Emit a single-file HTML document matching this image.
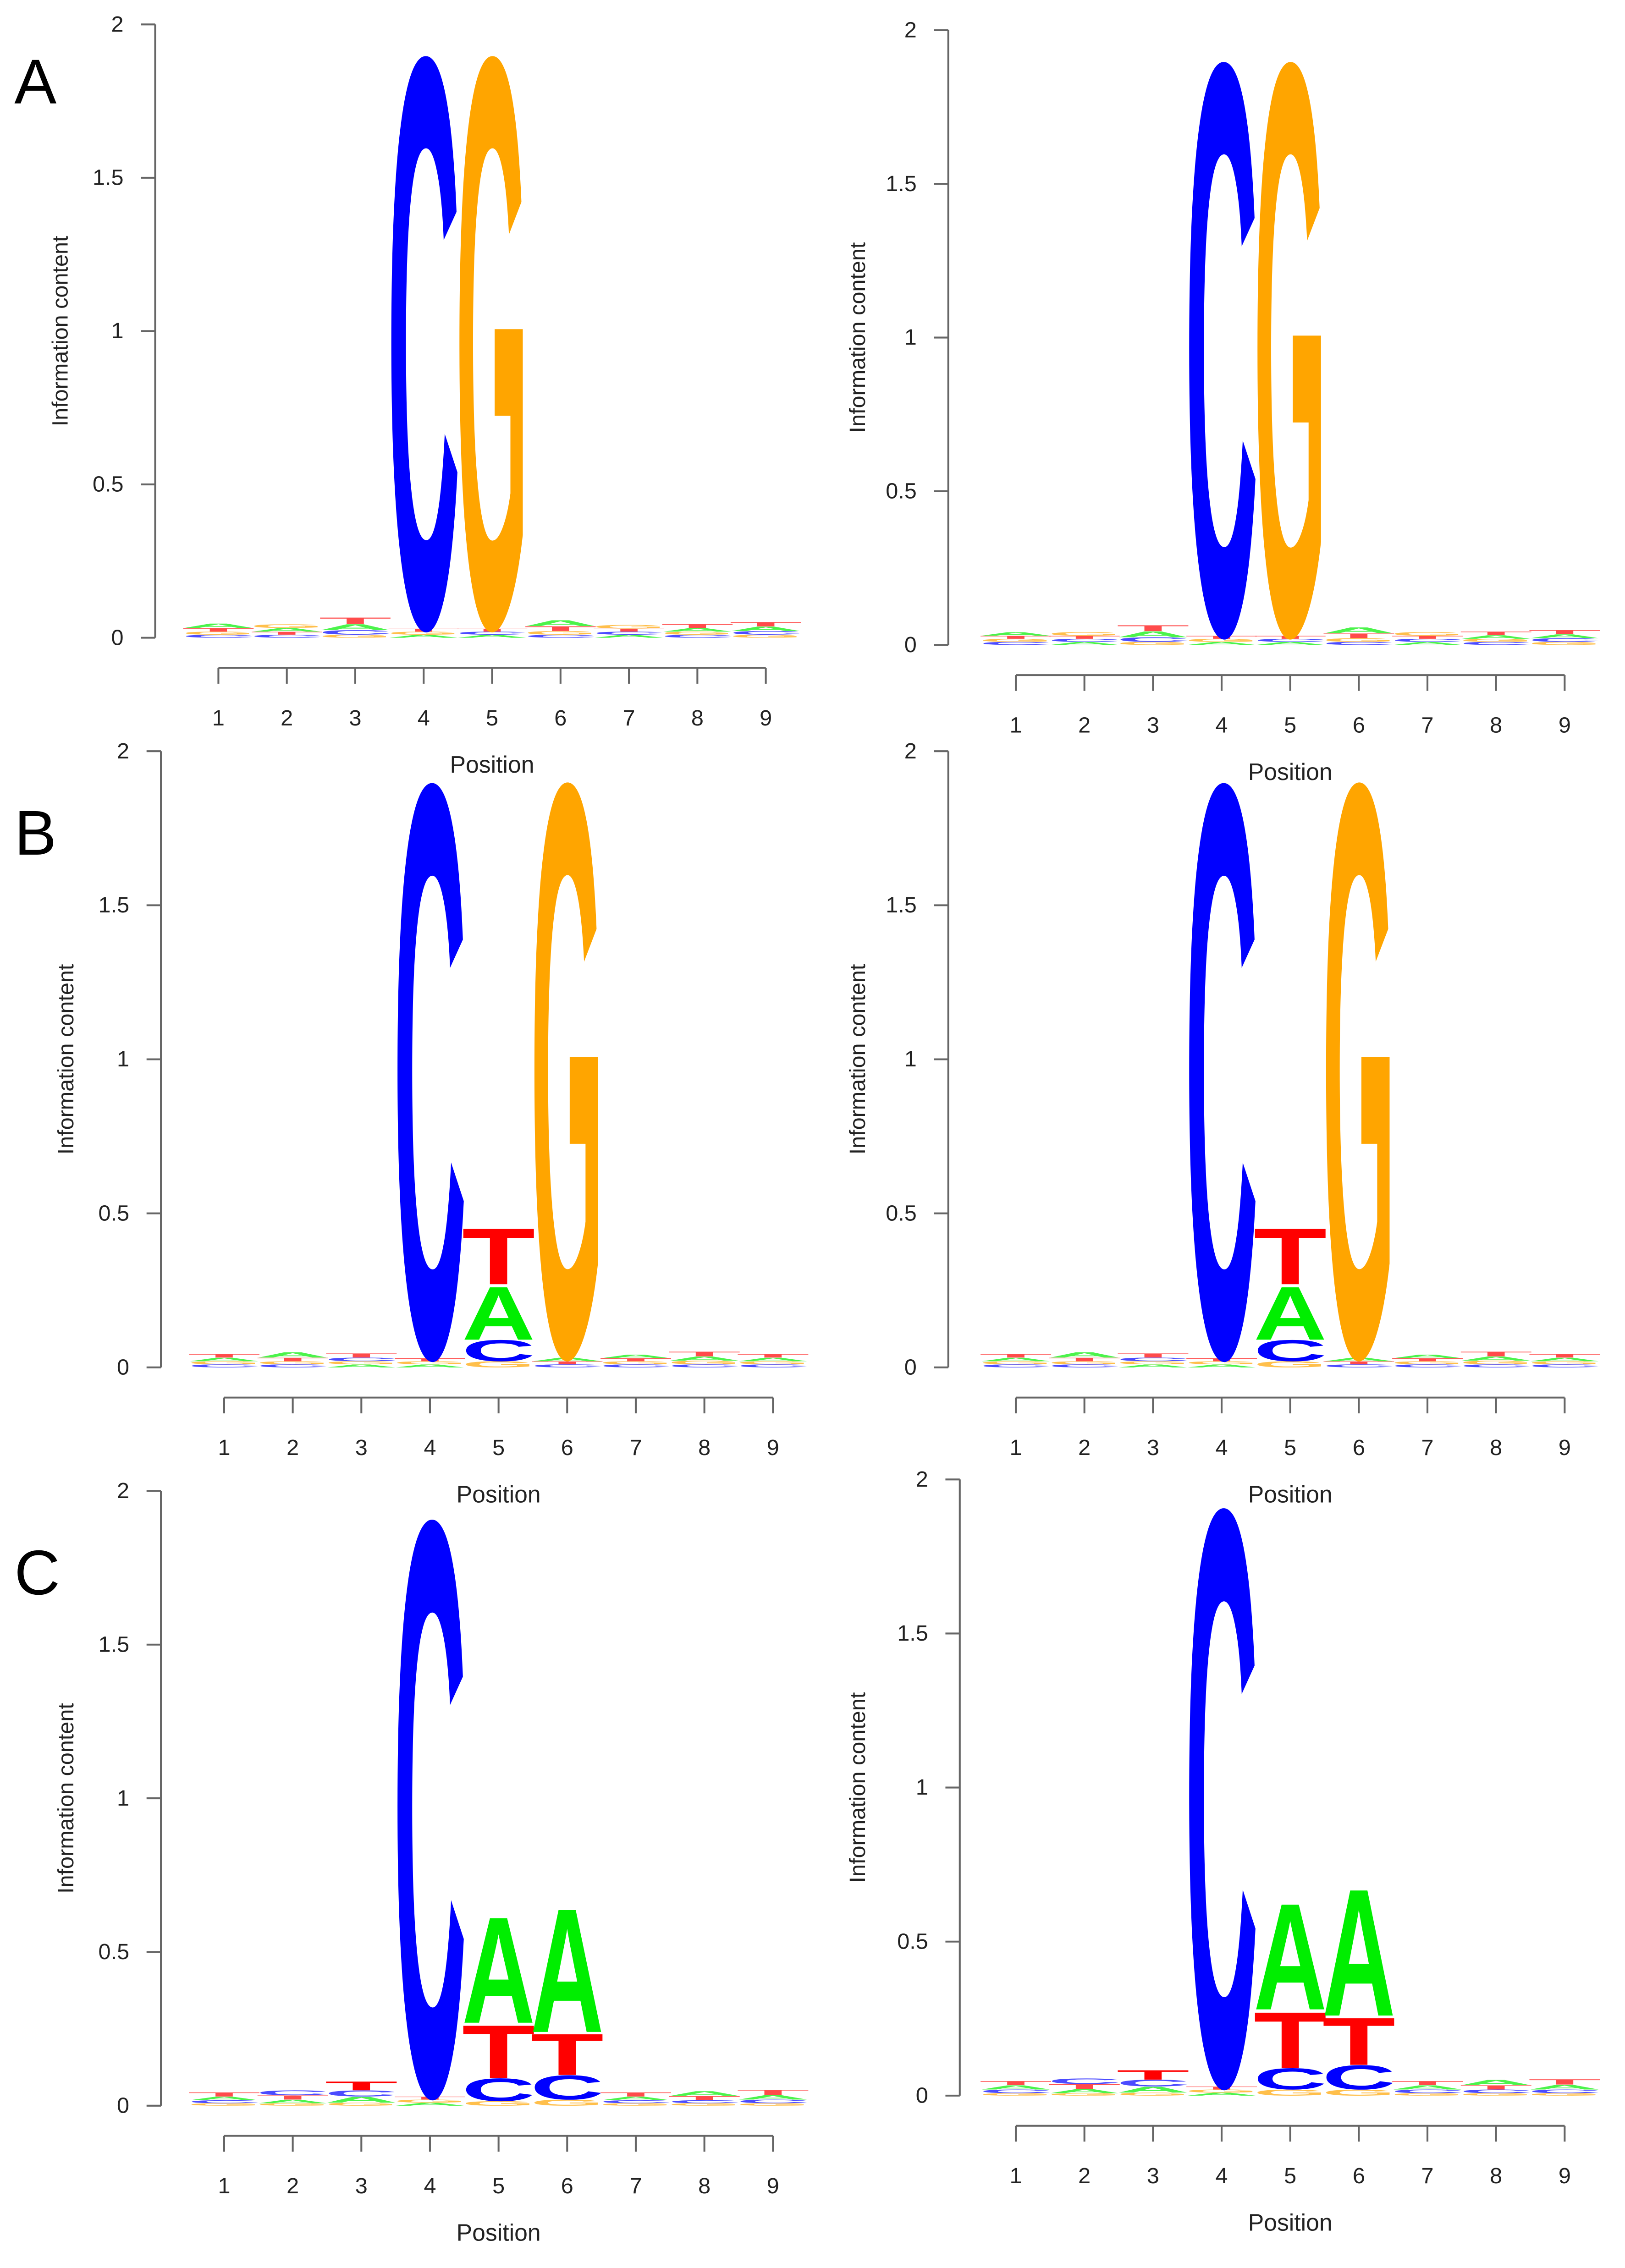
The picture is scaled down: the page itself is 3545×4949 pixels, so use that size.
<!DOCTYPE html>
<html><head><meta charset="utf-8"><style>
html,body{margin:0;padding:0;background:#fff;}
svg{display:block;}
text{font-family:"Liberation Sans",sans-serif;}
</style></head>
<body>
<svg id="fig" width="3545" height="4949" viewBox="0 0 1131 1579" preserveAspectRatio="none" xmlns="http://www.w3.org/2000/svg">
<text x="10" y="72" font-size="44" fill="#000">A</text>
<text x="10" y="595" font-size="44" fill="#000">B</text>
<text x="10" y="1110" font-size="44" fill="#000">C</text>
</svg>
<script>
// Shared axis data
const positions = [1,2,3,4,5,6,7,8,9];
const yTicks = [0,0.5,1,1.5,2];
const yTickLabels = ["0","0.5","1","1.5","2"];
const letters = ["A","C","G","T"];
const letterColors = {A:"#00ee00",C:"#0000ff",G:"#ffa500",T:"#ff0000"};

// Per-panel letter heights (bits), index = position-1
const aLeftA = [0.015,0.012,0.02,0.01,0.01,0.02,0.01,0.012,0.015];
const aLeftC = [0.01,0.01,0.015,1.89,0.01,0.01,0.01,0.01,0.012];
const aLeftG = [0.01,0.012,0.01,0.01,1.89,0.012,0.012,0.01,0.01];
const aLeftT = [0.012,0.01,0.022,0.01,0.01,0.016,0.01,0.013,0.015];

const aRightA = [0.012,0.01,0.02,0.01,0.01,0.02,0.01,0.012,0.013];
const aRightC = [0.01,0.01,0.015,1.89,0.01,0.01,0.01,0.01,0.012];
const aRightG = [0.01,0.012,0.01,0.01,1.89,0.012,0.012,0.01,0.01];
const aRightT = [0.01,0.01,0.02,0.01,0.01,0.016,0.01,0.012,0.014];

const bLeftA = [0.012,0.018,0.01,0.01,0.18,0.012,0.012,0.014,0.012];
const bLeftC = [0.01,0.01,0.012,1.89,0.07,0.01,0.01,0.01,0.01];
const bLeftG = [0.01,0.01,0.01,0.01,0.02,1.89,0.01,0.012,0.01];
const bLeftT = [0.012,0.012,0.014,0.01,0.19,0.01,0.01,0.016,0.012];

const bRightA = [0.012,0.018,0.01,0.01,0.18,0.012,0.012,0.014,0.012];
const bRightC = [0.01,0.01,0.012,1.89,0.07,0.01,0.01,0.01,0.01];
const bRightG = [0.01,0.01,0.01,0.01,0.02,1.89,0.01,0.012,0.01];
const bRightT = [0.012,0.012,0.014,0.01,0.19,0.01,0.01,0.016,0.012];

const cLeftA = [0.012,0.012,0.02,0.01,0.36,0.42,0.012,0.016,0.015];
const cLeftC = [0.01,0.016,0.02,1.9,0.075,0.08,0.01,0.01,0.012];
const cLeftG = [0.008,0.008,0.01,0.01,0.015,0.02,0.008,0.008,0.008];
const cLeftT = [0.014,0.014,0.03,0.01,0.18,0.14,0.014,0.014,0.018];

const cRightA = [0.014,0.014,0.02,0.01,0.36,0.43,0.014,0.018,0.016];
const cRightC = [0.012,0.018,0.022,1.9,0.07,0.08,0.012,0.012,0.012];
const cRightG = [0.008,0.008,0.01,0.01,0.02,0.02,0.008,0.008,0.008];
const cRightT = [0.014,0.016,0.032,0.01,0.19,0.16,0.014,0.014,0.018];

const panels = [
  {id:"a-left",  ax:108, y0:444, y2:17,  x1:152, x9:533,  xAxisY:465, titleX:42,  data:{A:aLeftA,C:aLeftC,G:aLeftG,T:aLeftT}},
  {id:"a-right", ax:660, y0:449, y2:21,  x1:707, x9:1089, xAxisY:470, titleX:597, data:{A:aRightA,C:aRightC,G:aRightG,T:aRightT}},
  {id:"b-left",  ax:112, y0:952, y2:523, x1:156, x9:538,  xAxisY:973, titleX:46,  data:{A:bLeftA,C:bLeftC,G:bLeftG,T:bLeftT}},
  {id:"b-right", ax:660, y0:952, y2:523, x1:707, x9:1089, xAxisY:973, titleX:597, data:{A:bRightA,C:bRightC,G:bRightG,T:bRightT}},
  {id:"c-left",  ax:112, y0:1466,y2:1038,x1:156, x9:538,  xAxisY:1487,titleX:46,  data:{A:cLeftA,C:cLeftC,G:cLeftG,T:cLeftT}},
  {id:"c-right", ax:668, y0:1459,y2:1030,x1:707, x9:1089, xAxisY:1480,titleX:597, data:{A:cRightA,C:cRightC,G:cRightG,T:cRightT}}
];

// glyph metrics (font units at size 100) for stretching
const glyphH = {A:72.9, T:72.9, C:71.2, G:71.2};
const glyphBase = {A:0, T:0, C:0.5, G:0.5};

const NS = "http://www.w3.org/2000/svg";
const svg = document.getElementById("fig");
function mk(tag, attrs, parent){
  const e = document.createElementNS(NS, tag);
  for (const k in attrs) e.setAttribute(k, attrs[k]);
  (parent||svg).appendChild(e);
  return e;
}

panels.forEach(p => {
  const g = mk("g", {});
  
  
  const yS = v => p.y0 - (p.y0 - p.y2) * v / 2;
  const step = (p.x9 - p.x1) / 8;
  const xS = pos => p.x1 + (pos - 1) * step;

  const yl = mk("line", {x1:p.ax, y1:yS(0), x2:p.ax, y2:yS(2), stroke:"#666", "stroke-width":1.3}, g);
  
  
  yTicks.forEach((t, i) => {
    const tk = mk("line", {x1:p.ax-10, y1:yS(t), x2:p.ax, y2:yS(t), stroke:"#666", "stroke-width":1.3}, g);
    
    
    const tl = mk("text", {x:p.ax-22, y:yS(t)+5, "font-size":15.5, "text-anchor":"end", fill:"#222"}, g);
    tl.textContent = yTickLabels[i];
    
    
  });
  const yt = mk("text", {x:0, y:0, "font-size":15.5, "text-anchor":"middle", fill:"#222",
    transform:`translate(${p.titleX+5},${yS(1)}) rotate(-90)`}, g);
  yt.textContent = "Information content";
  
  

  const xl = mk("line", {x1:xS(1), y1:p.xAxisY, x2:xS(9), y2:p.xAxisY, stroke:"#666", "stroke-width":1.3}, g);
  
  
  positions.forEach(pos => {
    const tk = mk("line", {x1:xS(pos), y1:p.xAxisY, x2:xS(pos), y2:p.xAxisY+11, stroke:"#666", "stroke-width":1.3}, g);
    
    
    const tl = mk("text", {x:xS(pos), y:p.xAxisY+40, "font-size":15.5, "text-anchor":"middle", fill:"#222"}, g);
    tl.textContent = String(pos);
    
    
  });
  const xt = mk("text", {x:xS(5), y:p.xAxisY+73, "font-size":16.5, "text-anchor":"middle", fill:"#222"}, g);
  xt.textContent = "Position";
  
  

  positions.forEach((pos, i) => {
    const stack = letters.map(L => ({L, h:p.data[L][i]})).sort((a,b) => a.h - b.h);
    let cum = 0;
    const w = step * 0.97;
    const left = xS(pos) - w/2;
    stack.forEach(s => {
      const bottom = yS(cum), top = yS(cum + s.h);
      const hpx = bottom - top;
      cum += s.h;
      if (hpx <= 0.05) return;
      const sy = hpx / glyphH[s.L];
      const tw = w * 1.1;
      const t = mk("text", {x:0, y:-glyphBase[s.L], "font-size":100, "font-weight":"bold", fill:letterColors[s.L],
        textLength:tw, lengthAdjust:"spacingAndGlyphs",
        opacity: hpx < 6 ? 0.7 : 1,
        transform:`translate(${left - w*0.05},${bottom}) scale(1,${sy})`}, g);
      t.textContent = s.L;
      
      
    });
  });
});
</script>
</body></html>
